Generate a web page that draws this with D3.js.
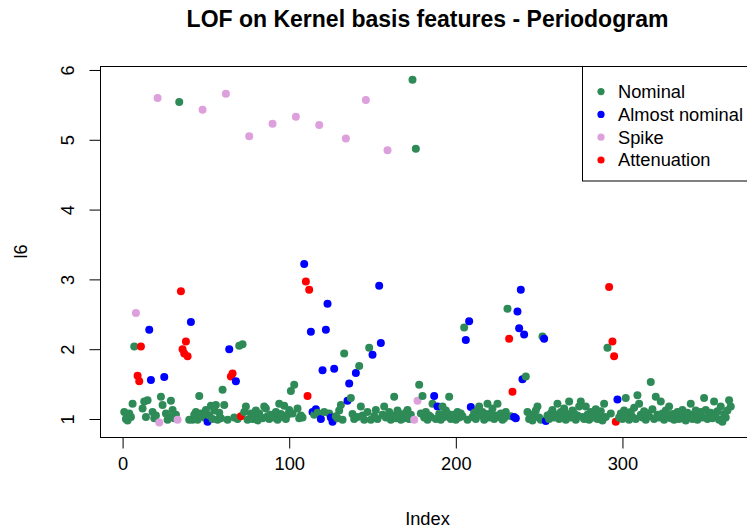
<!DOCTYPE html>
<html>
<head>
<meta charset="utf-8">
<script src="https://cdn.jsdelivr.net/npm/d3@7"></script>
<style>
  html, body { margin: 0; padding: 0; background: #fff; }
  svg { display: block; font-family: "Liberation Sans", Arial, Helvetica, sans-serif; }
</style>
</head>
<body>
<svg id="chart" width="747" height="528"></svg>
<script>
// LOF score (l6) for each observation, in index order 1..365
const l6 = [
  1.10, 1.00, 0.98, 1.08, 1.03, 1.22, 2.04, 2.52, 1.62, 1.54,
  2.04, 1.15, 1.25, 1.03, 1.27, 2.28, 1.56, 1.10, 1.01, 1.05,
  5.60, 0.95, 1.32, 1.20, 1.60, 1.08, 0.99, 1.03, 1.26, 1.13,
  1.01, 1.06, 0.99, 5.54, 2.83, 2.00, 1.94, 2.11, 1.90, 0.99,
  2.39, 0.99, 1.06, 1.10, 0.99, 1.33, 1.08, 5.43, 1.02, 1.13,
  0.96, 1.05, 1.19, 1.00, 1.12, 1.20, 0.99, 1.09, 1.01, 1.42,
  1.20, 5.66, 0.99, 2.00, 1.61, 1.65, 1.02, 1.54, 1.00, 2.05,
  1.04, 2.07, 1.10, 1.18, 0.99, 5.05, 1.08, 1.00, 1.03, 1.12,
  0.98, 1.08, 1.02, 1.01, 1.18, 1.15, 1.04, 1.00, 1.06, 5.23,
  1.02, 1.10, 0.99, 1.22, 1.07, 1.03, 1.19, 1.00, 1.06, 1.13,
  1.40, 1.08, 1.49, 5.33, 1.15, 1.01, 1.05, 1.02, 3.22, 2.97,
  1.33, 2.85, 2.25, 1.10, 1.06, 1.14, 1.09, 5.21, 1.00, 1.70,
  1.10, 2.28, 2.65, 1.08, 1.02, 0.96, 1.72, 1.04, 1.01, 1.12,
  1.20, 0.99, 1.94, 5.02, 1.26, 1.51, 1.30, 1.07, 1.00, 1.66,
  1.03, 1.76, 1.18, 1.05, 0.99, 5.57, 1.10, 2.02, 0.99, 1.92,
  1.04, 1.13, 1.00, 2.91, 2.09, 1.06, 1.18, 1.02, 4.85, 1.10,
  0.99, 1.05, 1.32, 1.01, 1.12, 1.08, 0.99, 1.04, 1.01, 1.09,
  1.13, 1.00, 1.06, 5.86, 0.99, 4.87, 1.26, 1.49, 1.08, 1.33,
  1.02, 1.10, 0.99, 1.05, 1.03, 1.22, 1.33, 1.00, 1.18, 1.07,
  0.99, 1.18, 1.03, 1.12, 1.08, 1.32, 1.00, 1.06, 1.03, 0.99,
  1.10, 1.02, 1.08, 1.04, 2.31, 2.13, 0.99, 2.40, 1.17, 1.03,
  1.09, 1.00, 1.12, 1.18, 1.05, 1.10, 0.99, 1.07, 1.22, 1.02,
  1.08, 1.15, 1.00, 1.05, 1.22, 1.03, 1.08, 0.99, 1.01, 1.10,
  2.58, 2.15, 1.04, 1.39, 1.03, 1.01, 2.54, 2.30, 2.85, 1.57,
  2.21, 1.61, 1.10, 1.00, 1.06, 0.98, 1.03, 1.12, 1.18, 1.02,
  0.99, 2.18, 2.15, 0.97, 1.05, 1.00, 1.08, 1.13, 1.02, 1.06,
  1.22, 1.00, 1.10, 1.04, 1.15, 0.99, 1.07, 1.25, 1.02, 1.12,
  1.08, 0.99, 1.05, 1.18, 1.25, 1.03, 1.00, 1.18, 1.06, 0.99,
  1.10, 1.08, 1.02, 1.14, 1.00, 1.06, 1.11, 0.98, 1.22, 1.03,
  2.02, 2.89, 1.08, 2.11, 1.90, 0.96, 1.28, 1.02, 1.08, 1.00,
  1.12, 1.30, 1.05, 0.99, 1.10, 1.03, 1.16, 1.00, 1.34, 1.22,
  1.06, 1.02, 1.11, 0.99, 1.08, 1.04, 1.53, 1.14, 1.00, 1.32,
  1.06, 1.02, 1.25, 1.08, 0.99, 1.12, 1.04, 1.18, 1.01, 1.07,
  0.99, 1.03, 1.10, 1.00, 1.06, 1.13, 1.02, 0.98, 1.09, 1.05,
  1.22, 1.00, 1.07, 1.12, 0.99, 1.04, 1.10, 1.02, 1.30, 1.13,
  1.00, 1.06, 1.09, 1.01, 1.25, 1.04, 1.11, 0.99, 1.18, 0.96,
  1.07, 1.02, 1.12, 1.27, 1.18
];

// Indices (1-based) of the non-nominal classes; every other index is Nominal
const almostNominalIdx = [16, 17, 25, 41, 51, 64, 68, 109, 113, 114, 116, 119, 120, 122, 123,
  125, 126, 127, 135, 136, 140, 150, 154, 155, 187, 189, 206, 208, 209, 235, 236, 237, 238,
  239, 240, 241, 253, 254, 297];
const spikeIdx = [8, 21, 22, 33, 48, 62, 76, 90, 104, 118, 134, 146, 159, 175, 177];
const attenuationIdx = [9, 10, 11, 35, 36, 37, 38, 39, 65, 66, 71, 110, 111, 112, 232, 234,
  292, 294, 295, 296];

const classNames = ["Nominal", "Almost nominal", "Spike", "Attenuation"];
const classColors = ["#2E8B57", "#0000FF", "#DDA0DD", "#FF0000"];

const xTicks = [0, 100, 200, 300];
const yTicks = [1, 2, 3, 4, 5, 6];

const chartTitle = "LOF on Kernel basis features - Periodogram";
const xLabel = "Index";
const yLabel = "l6";

// ---- build the point table
const classOf = new Map();
almostNominalIdx.forEach(i => classOf.set(i, 1));
spikeIdx.forEach(i => classOf.set(i, 2));
attenuationIdx.forEach(i => classOf.set(i, 3));
const points = l6.map((v, i) => ({ index: i + 1, value: v, cls: classOf.get(i + 1) || 0 }));

// ---- layout (base-graphics style plot region)
const plot = { left: 100, right: 755, top: 66, bottom: 437 };
const n = l6.length;
const xPad = (n - 1) * 0.04;
const x = d3.scaleLinear().domain([1 - xPad, n + xPad]).range([plot.left, plot.right]);
const y = d3.scaleLinear().domain([0.742, 6.057]).range([plot.bottom, plot.top]);

const svg = d3.select("#chart");
const fontSize = 18.3;

// points
svg.append("g")
  .selectAll("circle")
  .data(points)
  .join("circle")
  .attr("cx", d => x(d.index))
  .attr("cy", d => y(d.value))
  .attr("r", 4)
  .attr("fill", d => classColors[d.cls]);

// plot box
svg.append("rect")
  .attr("x", plot.left + 0.5).attr("y", plot.top + 0.5)
  .attr("width", plot.right - plot.left).attr("height", plot.bottom - plot.top)
  .attr("fill", "none").attr("stroke", "#000").attr("stroke-width", 1);

// x axis
const xAxis = d3.axisBottom(x).tickValues(xTicks).tickSize(11).tickPadding(9).tickFormat(d3.format("d"));
const gx = svg.append("g").attr("transform", `translate(0,${plot.bottom + 0.5})`).call(xAxis);
gx.select(".domain").attr("d", `M${x(xTicks[0])},0H${x(xTicks[xTicks.length - 1])}`).attr("stroke", "#000");
gx.selectAll(".tick line").attr("stroke", "#000");
gx.selectAll(".tick text").attr("font-size", fontSize).attr("fill", "#000")
  .attr("font-family", "Liberation Sans, Arial, sans-serif");

// y axis (labels parallel to the axis)
const yAxis = d3.axisLeft(y).tickValues(yTicks).tickSize(11).tickFormat(d3.format("d"));
const gy = svg.append("g").attr("transform", `translate(${plot.left + 0.5},0)`).call(yAxis);
gy.select(".domain").attr("d", `M0,${y(yTicks[0])}V${y(yTicks[yTicks.length - 1])}`).attr("stroke", "#000");
gy.selectAll(".tick line").attr("stroke", "#000");
gy.selectAll(".tick text")
  .attr("font-size", fontSize).attr("fill", "#000")
  .attr("font-family", "Liberation Sans, Arial, sans-serif")
  .attr("x", null).attr("dy", null)
  .attr("text-anchor", "middle")
  .attr("transform", "translate(-27,0) rotate(-90)");

// title and axis labels
svg.append("text")
  .attr("x", (plot.left + plot.right) / 2).attr("y", 27)
  .attr("text-anchor", "middle").attr("font-weight", "bold").attr("font-size", 23)
  .text(chartTitle);

svg.append("text")
  .attr("x", (plot.left + plot.right) / 2).attr("y", 525)
  .attr("text-anchor", "middle").attr("font-size", fontSize)
  .text(xLabel);

svg.append("text")
  .attr("transform", `translate(27,${(plot.top + plot.bottom) / 2}) rotate(-90)`)
  .attr("text-anchor", "middle").attr("font-size", fontSize)
  .text(yLabel);

// legend (top right corner of the plot region)
const legend = svg.append("g");
const legLeft = 582.5, rowH = 22.8, firstRow = 91.6;
legend.append("rect")
  .attr("x", legLeft).attr("y", plot.top + 0.5)
  .attr("width", plot.right - legLeft + 0.5).attr("height", 114.5)
  .attr("fill", "#fff").attr("stroke", "#000");
const rows = legend.selectAll("g.row").data(classNames).join("g")
  .attr("class", "row")
  .attr("transform", (d, i) => `translate(0,${firstRow + i * rowH})`);
rows.append("circle").attr("cx", 601).attr("cy", 0).attr("r", 3.6)
  .attr("fill", (d, i) => classColors[i]);
rows.append("text").attr("x", 618).attr("y", 0).attr("dy", "0.35em")
  .attr("font-size", fontSize).text(d => d);
</script>
</body>
</html>
